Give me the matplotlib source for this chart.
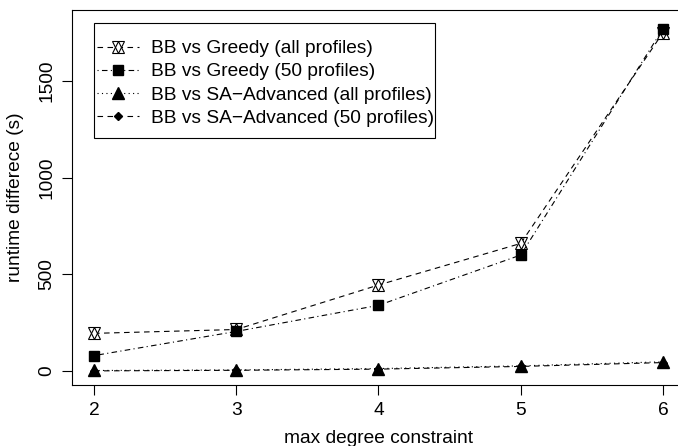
import matplotlib
matplotlib.use("Agg")
import matplotlib.pyplot as plt
from matplotlib.lines import Line2D
from matplotlib.legend_handler import HandlerTuple
from matplotlib.patches import Rectangle

x = [2, 3, 4, 5, 6]
greedy_all = [195, 215, 445, 660, 1750]
greedy_50 = [80, 205, 340, 600, 1770]
sa_all = [3, 6, 13, 27, 48]
sa_50 = [1, 4, 10, 24, 44]
labels = ["BB vs Greedy (all profiles)", "BB vs Greedy (50 profiles)",
          "BB vs SA\u2212Advanced (all profiles)", "BB vs SA\u2212Advanced (50 profiles)"]
xticks = [2, 3, 4, 5, 6]
yticks = [0, 500, 1000, 1500]

plt.rcParams['font.family'] = ['Liberation Sans', 'DejaVu Sans']
FS = 13.8
W, H = 678, 446
fig = plt.figure(figsize=(W / 100, H / 100), dpi=100)
l, r, t, b = 72, 685, 10, 385
ax = fig.add_axes([l / W, 1 - b / H, (r - l) / W, (b - t) / H])

lw = 0.8
ms = 9
dashed = (0, (5, 4))
dotdash = (0, (1, 3, 5, 3))
dotted = (0, (1, 3))

l1, = ax.plot(x, greedy_all, color='black', lw=lw, linestyle=dashed)
m1a, = ax.plot(x, greedy_all, linestyle='none', marker='^', mfc='white', mec='black', ms=ms, mew=0.8)
m1b, = ax.plot(x, greedy_all, linestyle='none', marker='v', mfc='none', mec='black', ms=ms, mew=0.8)
l2, = ax.plot(x, greedy_50, color='black', lw=lw, linestyle=dotdash, marker='s', ms=6.5, mfc='black', mec='black')
l3, = ax.plot(x, sa_all, color='black', lw=lw, linestyle=dotted, marker='^', ms=8, mfc='black', mec='black')
l4, = ax.plot(x, sa_50, color='black', lw=lw, linestyle=dashed, marker='D', ms=4.5, mfc='black', mec='black')

h1 = (Line2D([], [], color='black', lw=lw, linestyle=dashed),
      Line2D([], [], linestyle='none', marker='^', mfc='white', mec='black', ms=ms, mew=0.8),
      Line2D([], [], linestyle='none', marker='v', mfc='none', mec='black', ms=ms, mew=0.8))

# legend box (R style: wide vertical margin, narrow horizontal margin)
x0 = (94 - l) / (r - l); x1 = (435 - l) / (r - l)
y0 = 1 - (138 - t) / (b - t); y1 = 1 - (23 - t) / (b - t)
ax.add_patch(Rectangle((x0, y0), x1 - x0, y1 - y0, transform=ax.transAxes,
                       facecolor='white', edgecolor='black', lw=0.8, zorder=4))
leg = ax.legend([h1, l2, l3, l4], labels, loc='upper left',
                bbox_to_anchor=(x0, 1 - (37 - t) / (b - t)),
                handler_map={tuple: HandlerTuple(ndivide=1, pad=0)},
                frameon=False, fontsize=FS, handlelength=2.2, handletextpad=0.6,
                labelspacing=0.3, borderpad=0.15, borderaxespad=0)
leg.set_zorder(5)

ax.set_xlim(1.845, 6.155)
ax.set_ylim(-72, 1867)
ax.set_xticks(xticks)
ax.set_yticks(yticks)
ax.set_yticklabels([str(v) for v in yticks], rotation=90, va='center')
ax.tick_params(direction='out', length=7, width=0.8, labelsize=FS)
ax.tick_params(axis='x', pad=5)
ax.tick_params(axis='y', pad=5)
for s in ax.spines.values():
    s.set_linewidth(0.8)
ax.spines['right'].set_visible(False)
ax.set_xlabel("max degree constraint", fontsize=FS, labelpad=8)
ax.set_ylabel("runtime differece (s)", fontsize=FS, labelpad=10)

fig.savefig("out.png", dpi=100)
